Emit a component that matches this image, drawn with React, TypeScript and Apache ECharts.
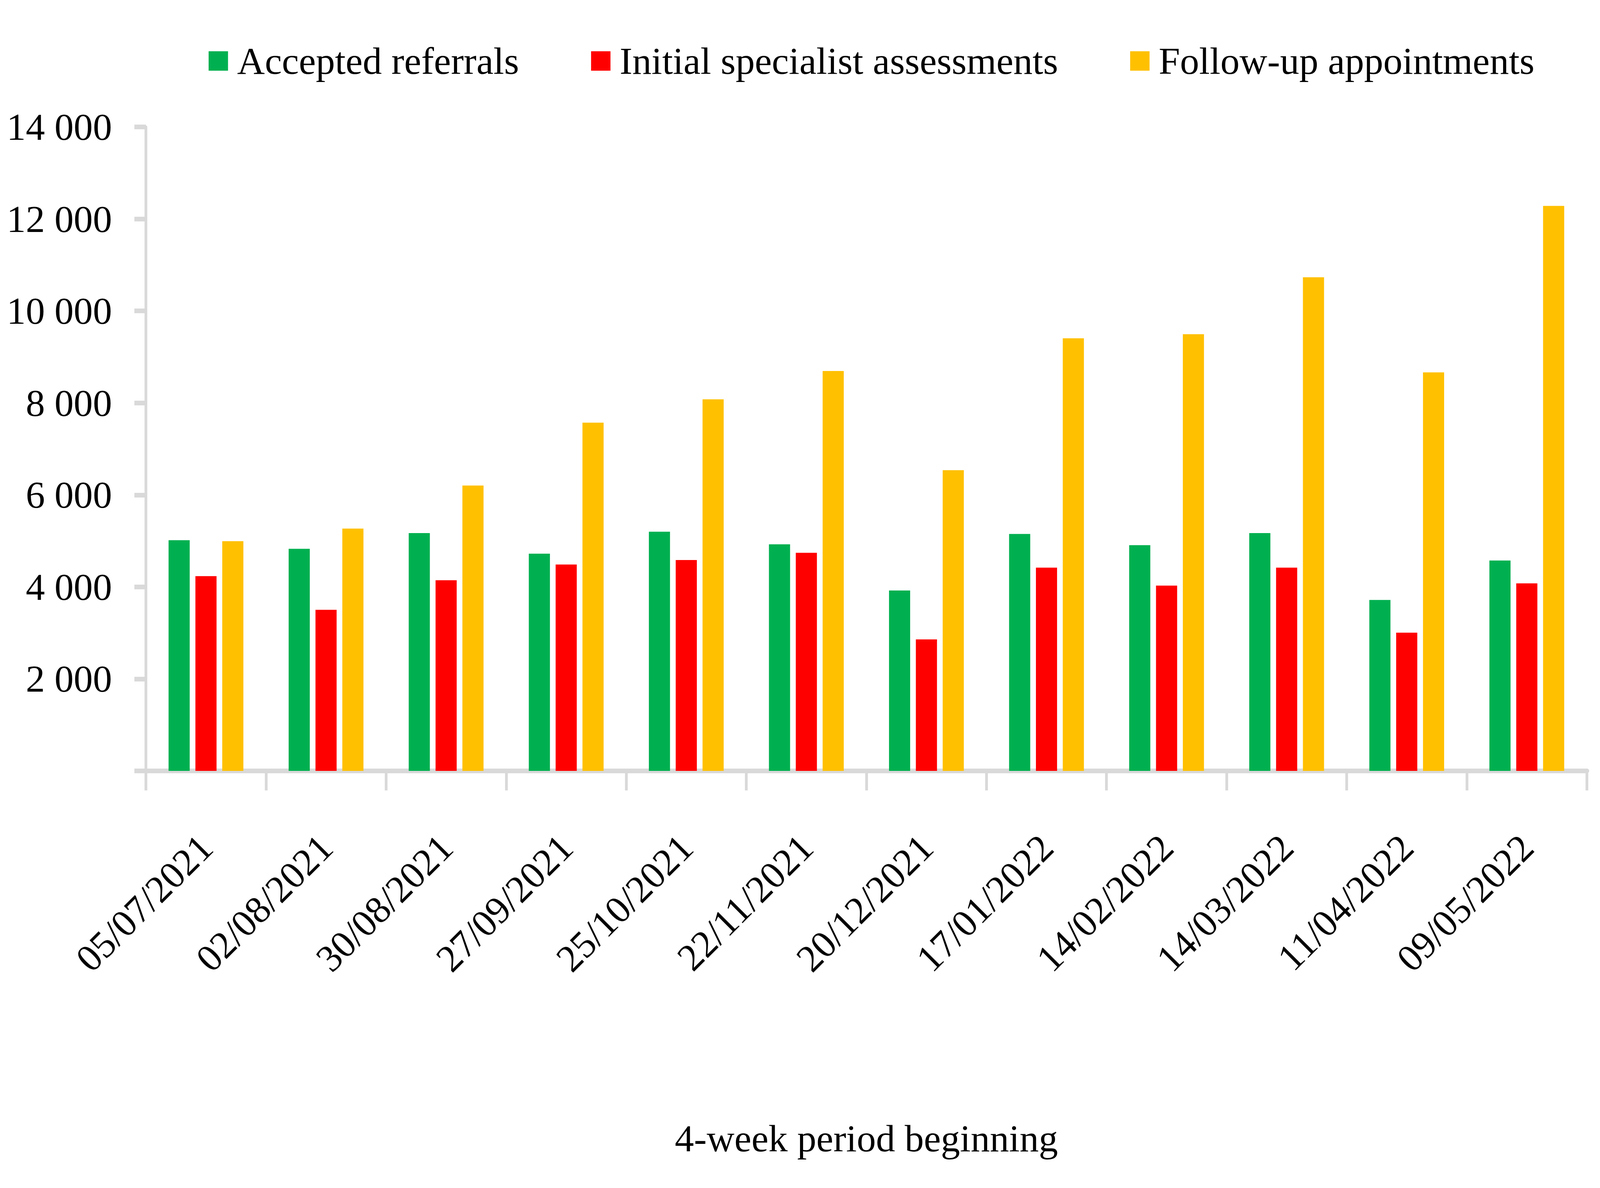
import React, { useEffect, useRef } from "react";
import * as echarts from "echarts";

const categories = [
  "05/07/2021", "02/08/2021", "30/08/2021", "27/09/2021", "25/10/2021", "22/11/2021",
  "20/12/2021", "17/01/2022", "14/02/2022", "14/03/2022", "11/04/2022", "09/05/2022",
];
const acceptedReferrals = [5015, 4829, 5171, 4722, 5200, 4927, 3922, 5151, 4907, 5171, 3717, 4575];
const initialAssessments = [4234, 3502, 4146, 4488, 4585, 4741, 2859, 4419, 4029, 4419, 3005, 4078];
const followUps = [4995, 5268, 6205, 7571, 8078, 8693, 6537, 9405, 9493, 10732, 8663, 12283];
const seriesNames = ["Accepted referrals", "Initial specialist assessments", "Follow-up appointments"];
const seriesColors = ["#00B050", "#FF0000", "#FFC000"];
const yMin = 0;
const yMax = 14000;
const yStep = 2000;
const xAxisTitle = "4-week period beginning";

const FONT = "'Liberation Serif', 'Times New Roman', serif";
const AXIS = "#D9D9D9";

function fmt(v: number): string {
  if (v === 0) return "";
  const s = String(Math.round(v));
  return s.replace(/\B(?=(\d{3})+(?!\d))/g, " ");
}

export default function App() {
  const ref = useRef<HTMLDivElement>(null);
  useEffect(() => {
    if (!ref.current) return;
    const el = ref.current;
    const W = el.clientWidth || 6929;
    const H = el.clientHeight || 3042;
    const sx = W / 6929;
    const sy = H / 3042;
    const s = Math.min(sx, sy);
    const FS = 166 * s;
    const mark = 84 * s;
    const chart = echarts.init(el, null, { renderer: "svg" });
    const data = [acceptedReferrals, initialAssessments, followUps];
    chart.setOption({
      animation: false,
      backgroundColor: "#FFFFFF",
      textStyle: { fontFamily: FONT },
      legend: {
        left: 895 * sx,
        top: 127 * sy - mark / 2,
        icon: "rect",
        itemWidth: mark,
        itemHeight: mark,
        itemGap: 312 * sx,
        textStyle: { fontFamily: FONT, fontSize: FS, color: "#000", padding: [0, 0, 0, 31 * s] },
        data: seriesNames,
      },
      grid: { left: 632 * sx, right: 57 * sx, top: 325 * sy, bottom: 1068 * sy, containLabel: false },
      xAxis: {
        type: "category",
        data: categories,
        name: xAxisTitle,
        nameLocation: "middle",
        nameGap: 2915 * sy - 1974 * sy - FS / 2,
        nameTextStyle: { fontFamily: FONT, fontSize: FS, color: "#000" },
        axisLine: { show: true, lineStyle: { color: AXIS, width: 12 * sy } },
        axisTick: { show: true, length: 50 * sy, lineStyle: { color: AXIS, width: 12 * sx } },
        axisLabel: {
          rotate: 45,
          margin: 180 * sy,
          interval: 0,
          fontFamily: FONT,
          fontSize: FS,
          color: "#000",
        },
        splitLine: { show: false },
      },
      yAxis: {
        type: "value",
        min: yMin,
        max: yMax,
        interval: yStep,
        axisLine: { show: true, lineStyle: { color: AXIS, width: 12 * sx } },
        axisTick: { show: true, length: 50 * sx, lineStyle: { color: AXIS, width: 12 * sy } },
        axisLabel: {
          margin: 147 * sx,
          fontFamily: FONT,
          fontSize: FS,
          color: "#000",
          formatter: (v: number) => fmt(v),
        },
        splitLine: { show: false },
      },
      series: seriesNames.map((name, i) => ({
        name,
        type: "bar",
        data: data[i],
        itemStyle: { color: seriesColors[i] },
        barGap: "27%",
        barCategoryGap: "37.7%",
      })),
    });
    return () => chart.dispose();
  }, []);
  return (
    <div
      ref={ref}
      style={{ position: "fixed", left: 0, top: 0, width: "100vw", height: "100vh", background: "#fff" }}
    />
  );
}
